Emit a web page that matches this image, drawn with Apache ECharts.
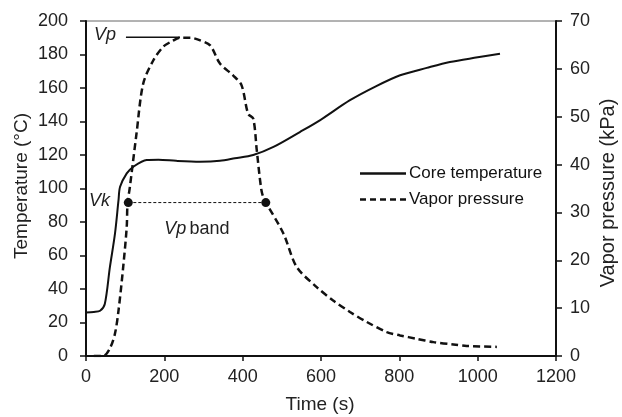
<!DOCTYPE html>
<html><head><meta charset="utf-8">
<script src="https://cdn.jsdelivr.net/npm/echarts@6/dist/echarts.min.js"></script>
<style>html,body{margin:0;padding:0;background:#fff}#c{width:622px;height:417px}</style>
</head><body><div id="c"></div>
<script>
// Core temperature (left axis, °C)
var coreTime = [0, 20, 36, 48, 61, 74, 83, 87, 104, 121, 155, 185, 230, 291, 342, 380, 427, 480, 546, 597, 674, 740, 802, 870, 929, 1000, 1057];
var coreTemp = [26, 26.3, 27, 31, 53, 73, 93, 101, 109, 113, 117, 117.2, 116.5, 116, 116.5, 118, 120, 125, 133.7, 140.7, 152.7, 161, 167.6, 172, 175.5, 178.3, 180.5];
// Vapor pressure (right axis, kPa)
var vpTime = [20, 44, 61, 74, 83, 95, 104, 106, 112, 129, 146, 172, 197, 220, 240, 266, 290, 317, 342, 376, 397, 414, 427, 436, 448, 457, 461, 504, 538, 589, 631, 674, 717, 768, 802, 844, 887, 938, 972, 1049];
var vpVal = [0, 0, 1.6, 4.7, 9.5, 18.6, 27, 31.8, 35.3, 46.5, 56.9, 61.8, 64.6, 65.8, 66.5, 66.5, 66, 64.9, 61.1, 58.6, 56.6, 50.6, 49.6, 43, 34.6, 32.2, 31.8, 25.6, 18.6, 14.4, 11.6, 9.2, 7.1, 5.0, 4.3, 3.6, 2.9, 2.4, 2.1, 1.9];
// Vp band (left axis) and Vp peak marker (right axis)
var bandTime = [108, 459];
var bandTemp = [91.6, 91.6];
var peakTime = [102, 240];
var peakVal = [66.6, 66.6];

function pairs(xs, ys){ return xs.map(function(x,i){return [x, ys[i]];}); }
var F = 'Liberation Sans, Arial, sans-serif';
var solidIcon = 'path://M0,0h46v2.5h-46z';
var dashIcon = 'path://M0,0h6v2.5h-6zM10,0h6v2.5h-6zM20,0h6v2.5h-6zM30,0h6v2.5h-6zM40,0h6v2.5h-6z';
var plain = function(v){ return String(v); };
var chart = echarts.init(document.getElementById('c'));
chart.setOption({
  animation:false,
  grid:{left:86, right:66, top:21, bottom:61, show:true, borderColor:'#666', borderWidth:1},
  legend:{
    orient:'vertical', left:355, top:160, itemWidth:46, itemHeight:2.5, itemGap:9,
    textStyle:{fontFamily:F, fontSize:17, color:'#111', padding:[0,0,0,-2]},
    data:[{name:'Core temperature', icon:solidIcon},{name:'Vapor pressure', icon:dashIcon}]
  },
  xAxis:{type:'value', min:0, max:1200, interval:200,
    axisLine:{lineStyle:{color:'#111', width:2}},
    axisTick:{show:true, length:5, lineStyle:{color:'#111', width:1.5}},
    axisLabel:{fontFamily:F, fontSize:18, color:'#222', margin:12, formatter:plain},
    splitLine:{show:false}},
  yAxis:[
    {type:'value', min:0, max:200, interval:20,
     axisLine:{show:true, lineStyle:{color:'#111', width:2}},
     axisTick:{show:true, length:6, lineStyle:{color:'#111', width:1.5}},
     axisLabel:{fontFamily:F, fontSize:18, color:'#222', margin:18, formatter:plain},
     splitLine:{show:false}},
    {type:'value', min:0, max:70, interval:10, position:'right',
     axisLine:{show:true, lineStyle:{color:'#111', width:2}},
     axisTick:{show:true, length:6, lineStyle:{color:'#111', width:1.5}},
     axisLabel:{fontFamily:F, fontSize:18, color:'#222', margin:14, formatter:plain},
     splitLine:{show:false}}
  ],
  series:[
    {name:'Core temperature', type:'line', yAxisIndex:0, data:pairs(coreTime, coreTemp),
     smooth:0.3, showSymbol:false, symbol:'none', lineStyle:{color:'#111', width:2}, itemStyle:{color:'#111'}},
    {name:'Vapor pressure', type:'line', yAxisIndex:1, data:pairs(vpTime, vpVal),
     smooth:0.3, showSymbol:false, symbol:'none', lineStyle:{color:'#111', width:2.5, type:[7,4]}, itemStyle:{color:'#111'}},
    {name:'band', type:'line', yAxisIndex:0, data:pairs(bandTime, bandTemp),
     symbol:'circle', symbolSize:9, lineStyle:{color:'#111', width:1, type:[3,2]}, itemStyle:{color:'#111'}},
    {name:'peak', type:'line', yAxisIndex:1, data:pairs(peakTime, peakVal),
     symbol:'none', lineStyle:{color:'#111', width:1.5}}
  ]
});
// annotation texts anchored to data coordinates
var pVk = chart.convertToPixel({gridIndex:0}, [0, 91.6]);
var pBand = chart.convertToPixel({gridIndex:0}, [283, 76]);
var pVp = chart.convertToPixel({gridIndex:0}, [0, 190.3]);
chart.setOption({graphic:[
  {type:'text', left:pVk[0]+3, top:pVk[1]-11, style:{text:'Vk', font:'italic 18px '+F, fill:'#222'}},
  {type:'text', x:pBand[0], y:pBand[1], style:{rich:{i:{fontStyle:'italic', fontSize:18, fontFamily:F, fill:'#222'}, n:{fontSize:18, fontFamily:F, fill:'#222'}}, text:'{i|Vp} {n|band}', align:'center', verticalAlign:'middle', fill:'#222'}},
  {type:'text', left:pVp[0]+8, top:pVp[1]-11, style:{text:'Vp', font:'italic 18px '+F, fill:'#222'}},
  {type:'text', x:22, y:186, rotation:Math.PI/2, style:{text:'Temperature (°C)', font:'19px '+F, fill:'#222', align:'center', verticalAlign:'middle'}},
  {type:'text', x:608, y:193, rotation:Math.PI/2, style:{text:'Vapor pressure (kPa)', font:'20px '+F, fill:'#222', align:'center', verticalAlign:'middle'}},
  {type:'text', x:320, y:405, style:{text:'Time (s)', font:'19px '+F, fill:'#222', align:'center', verticalAlign:'middle'}}
]});
</script></body></html>
